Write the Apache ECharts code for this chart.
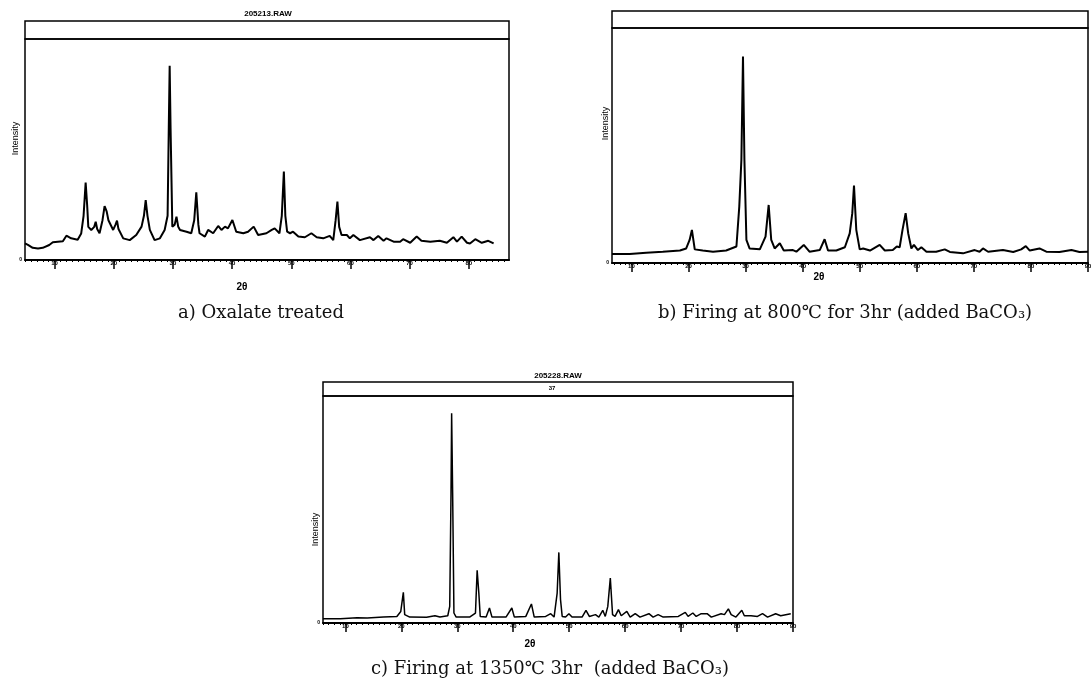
<!DOCTYPE html>
<html><head><meta charset="utf-8">
<script src="https://cdn.jsdelivr.net/npm/echarts@6/dist/echarts.min.js"></script>
<style>html,body{margin:0;padding:0;background:#fff}#c{width:1091px;height:683px}</style>
</head><body><div id="c"></div>
<script>
// ---- data: [2θ (deg), intensity (arb. counts)] ----
const patternA = [[5.0,75],[5.5,68],[6.3,55],[7.2,52],[8.0,55],[9.1,68],[9.7,80],[11.4,85],[12.0,110],[12.8,98],[13.9,92],[14.5,120],[14.9,200],[15.25,350],[15.5,250],[15.7,150],[16.2,136],[16.7,150],[16.95,173],[17.2,140],[17.6,121],[18.1,180],[18.45,244],[18.8,220],[19.1,180],[19.9,136],[20.3,160],[20.55,178],[20.8,140],[21.6,98],[22.7,90],[23.8,113],[24.7,151],[25.1,200],[25.4,271],[25.7,200],[26.1,136],[26.9,90],[27.8,98],[28.6,136],[29.1,200],[29.3,600],[29.45,879],[29.6,600],[29.9,151],[30.3,160],[30.6,196],[30.9,150],[31.2,136],[32.3,128],[33.1,121],[33.6,180],[33.95,306],[34.3,160],[34.5,121],[35.4,106],[35.95,136],[36.8,121],[37.65,154],[38.2,136],[38.8,151],[39.3,143],[40.05,181],[40.7,128],[41.9,121],[42.7,128],[43.65,151],[44.4,113],[45.8,121],[46.7,136],[47.2,143],[48.0,121],[48.4,200],[48.75,400],[49.0,200],[49.3,128],[49.8,121],[50.3,128],[51.2,106],[52.3,103],[53.4,121],[54.3,103],[55.4,98],[56.5,109],[57.1,90],[57.5,180],[57.8,264],[58.1,150],[58.5,113],[59.4,113],[59.9,98],[60.5,113],[61.6,90],[63.3,103],[63.9,90],[64.7,109],[65.6,87],[66.1,98],[67.3,83],[68.4,83],[68.9,94],[70.1,78],[71.2,106],[72.0,87],[73.5,83],[75.1,87],[76.3,78],[77.4,103],[78.0,83],[78.8,106],[79.7,78],[80.2,75],[81.1,94],[82.2,78],[83.3,87],[84.2,75]];
const patternB = [[6.6,38],[9.7,38],[12.6,44],[15.5,48],[18.5,53],[19.6,62],[20.2,98],[20.6,141],[21.1,58],[22.5,53],[24.3,48],[26.6,53],[28.4,70],[28.9,240],[29.27,439],[29.55,879],[29.8,439],[30.15,98],[30.7,62],[32.5,58],[33.5,112],[34.05,247],[34.5,98],[35.1,62],[36.0,84],[36.7,53],[38.3,55],[38.9,48],[40.2,77],[41.2,48],[43.0,55],[43.85,101],[44.45,53],[45.9,53],[47.4,67],[48.25,126],[48.7,212],[49.0,330],[49.4,141],[50.0,58],[50.6,62],[51.8,53],[53.5,77],[54.4,53],[55.8,55],[56.5,70],[57.0,67],[57.5,141],[58.05,212],[58.5,126],[59.05,62],[59.5,77],[60.2,55],[60.8,67],[61.7,48],[63.4,48],[64.9,58],[65.8,47],[68.1,41],[70.15,55],[71.0,48],[71.6,62],[72.5,48],[75.1,55],[76.9,47],[78.3,58],[79.1,72],[79.8,53],[81.5,62],[82.7,48],[85.0,47],[87.1,55],[88.5,47],[90,48]];
const patternC = [[6.0,19],[9.1,19],[12.1,23],[13.9,22],[16.8,26],[19.2,29],[19.9,51],[20.36,135],[20.6,37],[21.5,26],[24.5,25],[26.0,32],[26.9,26],[28.3,32],[28.65,73],[28.88,572],[28.99,924],[29.17,572],[29.4,44],[29.8,26],[32.2,26],[33.25,44],[33.55,232],[33.85,132],[34.1,29],[35.15,26],[35.75,66],[36.2,26],[38.7,26],[39.75,66],[40.2,26],[42.25,29],[43.25,84],[43.75,26],[45.8,29],[46.7,41],[47.3,26],[47.85,132],[48.15,311],[48.45,103],[48.75,29],[49.35,26],[49.95,41],[50.5,26],[52.3,26],[53.0,56],[53.6,29],[54.7,37],[55.3,26],[56.0,56],[56.45,29],[56.9,73],[57.35,198],[57.75,37],[58.2,29],[58.8,59],[59.3,32],[60.3,51],[60.9,26],[61.8,41],[62.65,26],[64.25,41],[65.0,26],[65.9,37],[66.8,26],[69.5,29],[70.05,37],[70.75,47],[71.25,29],[72.1,44],[72.7,29],[73.6,41],[74.65,41],[75.4,26],[77.15,41],[77.75,37],[78.45,62],[78.95,37],[79.8,26],[80.85,56],[81.3,32],[82.5,32],[83.65,29],[84.55,41],[85.45,26],[86.9,41],[87.8,32],[89.6,41]];

const majorTicksA = [10,20,30,40,50,60,70,80];
const majorTicksB = [10,20,30,40,50,60,70,80,90];
const majorTicksC = [10,20,30,40,50,60,70,80,90];

const captions = ['a) Oxalate treated', 'b) Firing at 800\u2103 for 3hr (added BaCO\u2083)', 'c) Firing at 1350\u2103 3hr  (added BaCO\u2083)'];
const fileNames = ['205213.RAW', '', '205228.RAW'];
const stripLabels = ['', '', '37'];
const xName = '2\u03b8';
const yName = 'Intensity';

// ---- layout ----
const panels = [
  {data: patternA, ticks: majorTicksA, min: 5, max: 86.8, lw: 2,
   strip: {left: 25, top: 21, width: 484, height: 18}, plot: {left: 25, top: 39, width: 484, height: 221},
   yGap: 5, yPad: [0, 0, 0, 22], xGap: 22, xPad: [0, 50, 0, 0],
   cap: {x: 261, y: 304}, file: {x: 268, y: 10}, stripText: null},
  {data: patternB, ticks: majorTicksB, min: 6.6, max: 90, lw: 2,
   strip: {left: 612, top: 11, width: 476, height: 17}, plot: {left: 612, top: 28, width: 476, height: 235},
   yGap: 2, yPad: [0, 0, 0, 44], xGap: 9, xPad: [0, 62, 0, 0],
   cap: {x: 845, y: 304}, file: null, stripText: null},
  {data: patternC, ticks: majorTicksC, min: 6, max: 90, lw: 1.5,
   strip: {left: 323, top: 382, width: 470, height: 14}, plot: {left: 323, top: 396, width: 470, height: 227},
   yGap: 3, yPad: [0, 40, 0, 0], xGap: 16, xPad: [0, 56, 0, 0],
   cap: {x: 550, y: 660}, file: {x: 558, y: 372}, stripText: {x: 552, y: 385}}
];

const gridBase = {show: true, borderColor: '#000', borderWidth: 1.5, backgroundColor: 'transparent', containLabel: false, outerBoundsMode: 'none'};
const grid = [], xAxis = [], yAxis = [], series = [], title = [];
panels.forEach((p, i) => {
  const gs = grid.length;
  grid.push(Object.assign({}, gridBase, p.strip));
  grid.push(Object.assign({}, gridBase, p.plot));
  xAxis.push({gridIndex: gs, type: 'value', show: false, min: 0, max: 1});
  yAxis.push({gridIndex: gs, type: 'value', show: false, min: 0, max: 1});
  const majorIdx = xAxis.length;
  xAxis.push({
    gridIndex: gs + 1, type: 'value', position: 'bottom', min: p.min, max: p.max,
    name: xName, nameLocation: 'middle', nameGap: p.xGap, nameMoveOverlap: false,
    nameTextStyle: {fontSize: 10, fontWeight: 'bold', color: '#000', fontFamily: 'Liberation Sans', padding: p.xPad},
    axisLine: {show: true, onZero: false, lineStyle: {color: '#000', width: 2}},
    axisTick: {show: true, customValues: p.ticks, length: 9, lineStyle: {color: '#000', width: 1.5}},
    axisLabel: {show: true, customValues: p.ticks, fontSize: 6, fontWeight: 'bold', color: '#000', margin: 0},
    splitLine: {show: false}
  });
  const minor = [];
  for (let v = Math.ceil(p.min); v <= Math.floor(p.max); v++) minor.push(v);
  xAxis.push({
    gridIndex: gs + 1, type: 'value', position: 'bottom', min: p.min, max: p.max,
    axisLine: {show: false},
    axisTick: {show: true, customValues: minor, length: 2, lineStyle: {color: '#000', width: 1}},
    axisLabel: {show: false}, splitLine: {show: false}
  });
  const yIdx = yAxis.length;
  yAxis.push({
    gridIndex: gs + 1, type: 'value', min: 0, max: 1000,
    name: yName, nameLocation: 'middle', nameGap: p.yGap, nameMoveOverlap: false,
    nameTextStyle: {fontSize: 9, color: '#000', fontFamily: 'Liberation Sans Narrow, Liberation Sans', padding: p.yPad},
    axisLine: {show: false}, axisTick: {show: false},
    axisLabel: {show: true, customValues: [0], fontSize: 5, fontWeight: 'bold', color: '#000', margin: 3},
    splitLine: {show: false}
  });
  series.push({
    type: 'line', xAxisIndex: majorIdx, yAxisIndex: yIdx, data: p.data,
    symbol: 'none', showSymbol: false, animation: false,
    lineStyle: {color: '#000', width: p.lw}
  });
  title.push({text: captions[i], left: p.cap.x, top: p.cap.y, textAlign: 'center', padding: 0,
    textStyle: {fontFamily: 'DejaVu Serif', fontWeight: 'normal', fontSize: 18, color: '#111'}});
  if (p.file) title.push({text: fileNames[i], left: p.file.x, top: p.file.y, textAlign: 'center', padding: 0,
    textStyle: {fontFamily: 'Liberation Sans Narrow, Liberation Sans', fontWeight: 'bold', fontSize: 8, color: '#000'}});
  if (p.stripText) title.push({text: stripLabels[i], left: p.stripText.x, top: p.stripText.y, textAlign: 'center', padding: 0,
    textStyle: {fontFamily: 'Liberation Sans', fontWeight: 'bold', fontSize: 6, color: '#000'}});
});

const chart = echarts.init(document.getElementById('c'), null, {renderer: 'canvas'});
chart.setOption({animation: false, backgroundColor: '#fff', title, grid, xAxis, yAxis, series});
</script></body></html>
